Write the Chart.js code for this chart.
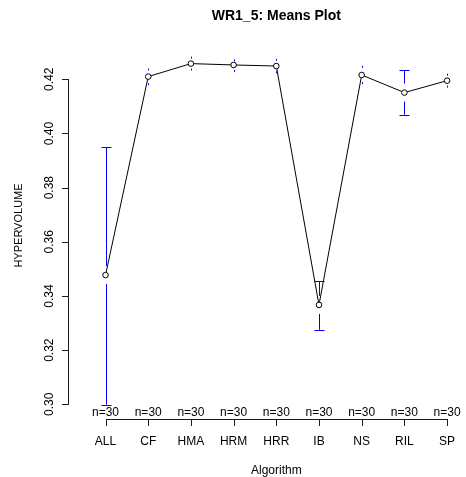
<!DOCTYPE html>
<html>
<head>
<meta charset="utf-8">
<script src="https://cdn.jsdelivr.net/npm/chart.js@4.4.1/dist/chart.umd.min.js"></script>
<style>
html,body{margin:0;padding:0;background:#fff;}
#wrap{width:466px;height:477px;}
</style>
</head>
<body>
<div id="wrap"><canvas id="c" width="466" height="477"></canvas></div>
<script>
const categories = ['ALL','CF','HMA','HRM','HRR','IB','NS','RIL','SP'];
const means   = [0.3477, 0.4210, 0.4258, 0.4253, 0.4249, 0.3367, 0.4216, 0.4151, 0.4195];
const ciUpper = [0.3950, 0.4236, 0.4280, 0.4270, 0.4272, 0.3454, 0.4246, 0.4234, 0.4217];
const ciLower = [0.2999, 0.4182, 0.4236, 0.4231, 0.4226, 0.3275, 0.4186, 0.4069, 0.4173];
const counts  = [30, 30, 30, 30, 30, 30, 30, 30, 30];
const yTicks  = [0.30, 0.32, 0.34, 0.36, 0.38, 0.40, 0.42];
const xTicks  = [1, 2, 3, 4, 5, 6, 7, 8, 9];
const titleText = 'WR1_5: Means Plot';
const xTitle = 'Algorithm';
const yTitle = 'HYPERVOLUME';

const FONT = '"Liberation Sans", Arial, Helvetica, sans-serif';

const errPlugin = {
  id: 'errbars',
  beforeDatasetsDraw(chart) {
    const ctx = chart.ctx;
    const xs = chart.scales.x, ys = chart.scales.y;
    const area = chart.chartArea;
    ctx.save();
    // axes (R style: from first to last tick), drawn as 1px rects
    ctx.fillStyle = '#1a1a1a';
    const ax = Math.round(area.left);
    const yTop = Math.round(ys.getPixelForValue(yTicks[yTicks.length - 1]));
    const yBot = Math.round(ys.getPixelForValue(yTicks[0]));
    ctx.fillRect(ax, yTop, 1, yBot - yTop + 1);
    yTicks.forEach(v => {
      const y = Math.round(ys.getPixelForValue(v));
      ctx.fillRect(ax - 6, y, 7, 1);
    });
    const ay = Math.round(area.bottom);
    const xL = Math.round(xs.getPixelForValue(xTicks[0]));
    const xR = Math.round(xs.getPixelForValue(xTicks[xTicks.length - 1]));
    ctx.fillRect(xL, ay, xR - xL + 1, 1);
    xTicks.forEach(v => {
      const x = Math.round(xs.getPixelForValue(v));
      ctx.fillRect(x, ay, 1, 7);
    });

    // error bars
    ctx.strokeStyle = '#0000FF';
    ctx.lineWidth = 1;
    const gap = 9, capHalf = 5;
    for (let i = 0; i < means.length; i++) {
      const px = Math.round(xs.getPixelForValue(i + 1)) + 0.5;
      const pm = ys.getPixelForValue(means[i]);
      const pu = ys.getPixelForValue(ciUpper[i]);
      const pl = ys.getPixelForValue(ciLower[i]);
      ctx.beginPath();
      if (pm - pu > gap) {
        ctx.moveTo(px, pm - gap); ctx.lineTo(px, pu);
        ctx.moveTo(px - capHalf, Math.round(pu) + 0.5); ctx.lineTo(px + capHalf, Math.round(pu) + 0.5);
      } else {
        ctx.moveTo(px, pu - 1); ctx.lineTo(px, pu + 1);
      }
      if (pl - pm > gap) {
        ctx.moveTo(px, pm + gap); ctx.lineTo(px, pl);
        ctx.moveTo(px - capHalf, Math.round(pl) + 0.5); ctx.lineTo(px + capHalf, Math.round(pl) + 0.5);
      } else {
        ctx.moveTo(px, pl - 1); ctx.lineTo(px, pl + 1);
      }
      ctx.stroke();
    }
    ctx.restore();
  }
};

const decorPlugin = {
  id: 'decor',
  afterDraw(chart) {
    const ctx = chart.ctx;
    const xs = chart.scales.x, ys = chart.scales.y;
    const area = chart.chartArea;
    ctx.save();
    // n= labels
    ctx.fillStyle = '#000';
    ctx.font = '12px ' + FONT;
    ctx.textAlign = 'center';
    ctx.textBaseline = 'alphabetic';
    for (let i = 0; i < counts.length; i++) {
      ctx.fillText('n=' + counts[i], xs.getPixelForValue(i + 1), area.bottom - 3);
    }

    // y tick labels rotated
    ys.ticks.forEach(t => {
      const y = ys.getPixelForValue(t.value);
      ctx.save();
      ctx.translate(53, y);
      ctx.rotate(-Math.PI / 2);
      ctx.textAlign = 'center';
      ctx.textBaseline = 'alphabetic';
      ctx.fillText(t.value.toFixed(2), 0, 0);
      ctx.restore();
    });

    const cx = (xs.getPixelForValue(xTicks[0]) + xs.getPixelForValue(xTicks[xTicks.length - 1])) / 2;
    // title
    ctx.font = 'bold 14px ' + FONT;
    ctx.textAlign = 'center';
    ctx.fillText(titleText, cx, 19.5);
    // x title
    ctx.font = '12px ' + FONT;
    ctx.fillText(xTitle, cx, 473.5);
    // y title
    ctx.save();
    ctx.translate(22, (area.top + area.bottom) / 2 - 6);
    ctx.rotate(-Math.PI / 2);
    ctx.font = '11px ' + FONT;
    ctx.fillText(yTitle, 0, 0);
    ctx.restore();
    ctx.restore();
  }
};

new Chart(document.getElementById('c'), {
  type: 'line',
  data: {
    datasets: [{
      data: means.map((m, i) => ({ x: i + 1, y: m })),
      borderColor: '#000',
      borderWidth: 1,
      pointRadius: 2.8,
      pointBorderWidth: 1,
      pointBorderColor: '#000',
      pointBackgroundColor: '#fff',
      tension: 0,
      fill: false
    }]
  },
  options: {
    responsive: false,
    animation: false,
    layout: { padding: { left: 0, right: 3, top: 44, bottom: 0 } },
    plugins: { legend: { display: false }, tooltip: { enabled: false }, title: { display: false } },
    scales: {
      x: {
        type: 'linear',
        min: 0.1212,
        max: 9.326,
        afterBuildTicks: s => { s.ticks = xTicks.map(v => ({ value: v })); },
        afterFit: s => { s.height = 58; s.paddingLeft = 0; s.paddingRight = 0; },
        grid: { display: false, drawOnChartArea: false, drawTicks: false },
        border: { display: false },
        ticks: {
          autoSkip: false, maxRotation: 0, minRotation: 0, padding: 15,
          color: '#000', font: { size: 12, family: FONT },
          callback: v => categories[v - 1]
        }
      },
      y: {
        type: 'linear',
        min: 0.29457,
        max: 0.43304,
        afterBuildTicks: s => { s.ticks = yTicks.map(v => ({ value: v })); },
        afterFit: s => { s.width = 68; s.paddingTop = 0; s.paddingBottom = 0; },
        grid: { display: false, drawOnChartArea: false, drawTicks: false },
        border: { display: false },
        ticks: { display: false }
      }
    }
  },
  plugins: [errPlugin, decorPlugin]
});
</script>
</body>
</html>
